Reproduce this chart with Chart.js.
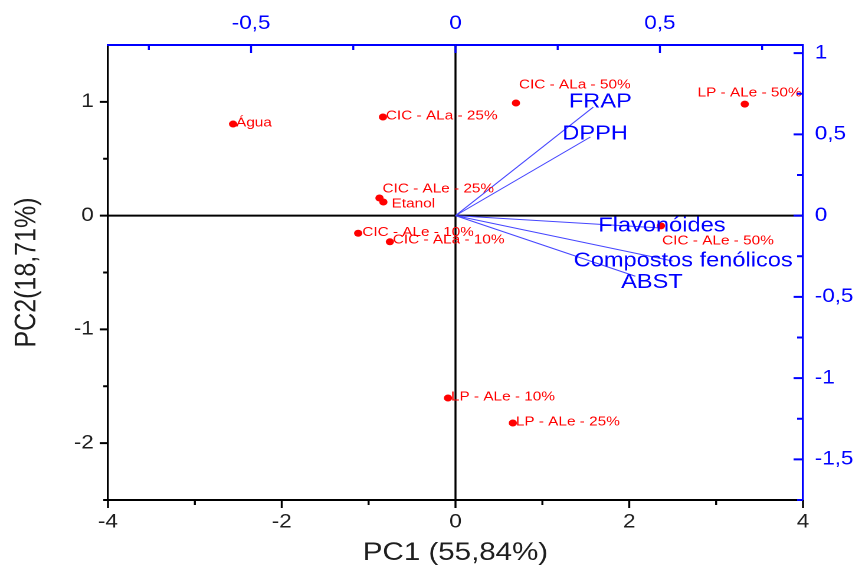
<!DOCTYPE html>
<html>
<head>
<meta charset="utf-8">
<title>PCA biplot</title>
<script src="https://cdn.jsdelivr.net/npm/chart.js"></script>
<style>
  html, body { margin: 0; padding: 0; background: #fff; overflow: hidden; }
  /* the reference is a little wider than it is tall, so stretch the canvas sideways */
  #biplot { display: block; transform: scaleX(1.18); transform-origin: 0 0; }
</style>
</head>
<body>
<canvas id="biplot" width="728" height="572"></canvas>

<script>
// sample scores (bottom / left axes)
const samples = ['Água', 'CIC - ALa - 25%', 'CIC - ALa - 50%', 'LP - ALe - 50%', 'CIC - ALe - 25%',
  'Etanol', 'CIC - ALe - 10%', 'CIC - ALa - 10%', 'CIC - ALe - 50%', 'LP - ALe - 10%', 'LP - ALe - 25%'];
const pc1 = [-2.56, -0.835, 0.696, 3.33, -0.875, -0.83, -1.12, -0.755, 2.365, -0.086, 0.66];
const pc2 = [0.805, 0.867, 0.99, 0.98, 0.155, 0.12, -0.155, -0.23, -0.09, -1.603, -1.823];

// variable loadings (top / right axes)
const variables = ['FRAP', 'DPPH', 'Flavonóides', 'Compostos fenólicos', 'ABST'];
const load1 = [0.337, 0.330, 0.502, 0.531, 0.440];
const load2 = [0.668, 0.484, -0.076, -0.279, -0.373];

// ticks
const pc1Ticks = [-4, -2, 0, 2, 4];
const pc1Minor = [-3, -1, 1, 3];
const pc2Ticks = [-2, -1, 0, 1];
const pc2Minor = [-2.5, -1.5, -0.5, 0.5];
const load1Ticks = [-0.5, 0, 0.5];
const load1Minor = [-0.75, -0.25, 0.25, 0.75];
const load2Ticks = [-1.5, -1, -0.5, 0, 0.5, 1];
const load2Minor = [-1.75, -1.25, -0.75, -0.25, 0.25, 0.75];

// label nudges in px (dx, dy) - text is drawn left aligned next to the dot
const sampleNudge = [[2.5, -1], [2.5, -1], [2.5, -18], [-40, -11], [2.5, -9], [7, 2],
  [3.4, -1], [2.5, -2], [1, 15], [2.5, -1], [2.5, -1]];
// centred on the arrow tip
const variableNudge = [[6, -5], [4, -3], [1, -2], [9, 0], [14, 6]];

const FONT = '"Liberation Sans", Arial, sans-serif';
const RED = '#ff0000';
const BLUE = '#0000ff';
const INK = '#1e1e1e';

const comma = v => String(v).replace('.', ',');

const decor = {
  id: 'decor',
  beforeDatasetsDraw(chart) {
    const { ctx, chartArea: a, scales } = chart;
    const x0 = scales.x.getPixelForValue(0);
    const y0 = scales.y.getPixelForValue(0);
    ctx.save();
    ctx.strokeStyle = '#000';
    ctx.lineWidth = 2;
    ctx.beginPath();
    ctx.moveTo(a.left, y0); ctx.lineTo(a.right, y0);
    ctx.stroke();
    ctx.lineWidth = 1.7;
    ctx.beginPath();
    ctx.moveTo(x0, a.top); ctx.lineTo(x0, a.bottom);
    ctx.stroke();
    ctx.restore();
  },
  afterDatasetsDraw(chart) {
    const { ctx, scales } = chart;
    ctx.save();
    ctx.textBaseline = 'middle';

    ctx.fillStyle = BLUE;
    ctx.font = '20px ' + FONT;
    ctx.textAlign = 'center';
    variables.forEach((name, i) => {
      const px = scales.x2.getPixelForValue(load1[i]) + variableNudge[i][0];
      const py = scales.y2.getPixelForValue(load2[i]) + variableNudge[i][1];
      ctx.fillText(name, px, py);
    });

    ctx.fillStyle = RED;
    ctx.font = '13px ' + FONT;
    ctx.textAlign = 'left';
    samples.forEach((name, i) => {
      const px = scales.x.getPixelForValue(pc1[i]) + sampleNudge[i][0];
      const py = scales.y.getPixelForValue(pc2[i]) + sampleNudge[i][1];
      ctx.fillText(name, px, py);
    });
    ctx.restore();
  },
  afterDraw(chart) {
    const { ctx, chartArea: a, scales } = chart;
    const marks = (scale, values, edge, dir, len, color, width) => {
      ctx.strokeStyle = color;
      ctx.lineWidth = width;
      values.forEach(v => {
        const p = scale.getPixelForValue(v);
        ctx.beginPath();
        if (scale.isHorizontal()) { ctx.moveTo(p, edge); ctx.lineTo(p, edge + dir * len); }
        else { ctx.moveTo(edge, p); ctx.lineTo(edge + dir * len, p); }
        ctx.stroke();
      });
    };
    ctx.save();
    marks(scales.x, pc1Ticks, a.bottom, 1, 8, '#000', 1.7);
    marks(scales.x, pc1Minor, a.bottom, 1, 5, '#000', 1.7);
    marks(scales.y, pc2Ticks, a.left, -1, 7, '#000', 2);
    marks(scales.y, pc2Minor, a.left, -1, 4, '#000', 2);
    marks(scales.x2, load1Ticks, a.top, 1, 8, BLUE, 1.7);
    marks(scales.x2, load1Minor, a.top, 1, 5, BLUE, 1.7);
    marks(scales.y2, load2Ticks, a.right, -1, 8, BLUE, 2);
    marks(scales.y2, load2Minor, a.right, -1, 5, BLUE, 2);
    ctx.restore();
  }
};

const fixedTicks = values => scale => { scale.ticks = values.map(v => ({ value: v })); };

const axis = (extra) => Object.assign({
  type: 'linear',
  grid: { display: true, drawOnChartArea: false, drawTicks: false },
  ticks: { autoSkip: false, maxRotation: 0, font: { size: 19, family: FONT }, color: INK, callback: v => comma(v) }
}, extra);

const datasets = [{
  label: 'amostras',
  data: pc1.map((v, i) => ({ x: v, y: pc2[i] })),
  xAxisID: 'x', yAxisID: 'y',
  backgroundColor: RED, borderWidth: 0,
  pointRadius: 3.5
}];
variables.forEach((name, i) => {
  datasets.push({
    label: name,
    data: [{ x: 0, y: 0 }, { x: load1[i], y: load2[i] }],
    xAxisID: 'x2', yAxisID: 'y2',
    showLine: true, pointRadius: 0,
    borderColor: '#4646ff', borderWidth: 1
  });
});

new Chart(document.getElementById('biplot'), {
  type: 'scatter',
  data: { datasets },
  plugins: [decor],
  options: {
    responsive: false,
    devicePixelRatio: 2,
    animation: false,
    layout: { padding: 0 },
    plugins: { legend: { display: false }, tooltip: { enabled: false } },
    scales: {
      x: axis({
        position: 'bottom', min: -4, max: 4,
        afterBuildTicks: fixedTicks(pc1Ticks),
        afterFit: s => { s.height = 72; },
        border: { color: '#000', width: 2 },
        ticks: Object.assign(axis({}).ticks, { padding: 11 }),
        title: { display: true, text: 'PC1 (55,84%)', color: INK, font: { size: 25, family: FONT }, padding: { top: 0, bottom: 4 } }
      }),
      y: axis({
        position: 'left', min: -2.5, max: 1.5,
        afterBuildTicks: fixedTicks(pc2Ticks),
        afterFit: s => { s.width = 91.5; },
        border: { color: '#000', width: 1.7 },
        ticks: Object.assign(axis({}).ticks, { padding: 12 }),
        title: { display: true, text: 'PC2(18,71%)', color: INK, font: { size: 25, family: FONT }, padding: { top: 8, bottom: 0 } }
      }),
      x2: axis({
        position: 'top', min: -0.85, max: 0.85,
        afterBuildTicks: fixedTicks(load1Ticks),
        afterFit: s => { s.height = 45; },
        border: { color: BLUE, width: 2 },
        ticks: Object.assign(axis({}).ticks, { color: BLUE, padding: 10 })
      }),
      y2: axis({
        position: 'right', min: -1.75, max: 1.05,
        afterBuildTicks: fixedTicks(load2Ticks),
        afterFit: s => { s.width = 47.5; },
        border: { color: BLUE, width: 1.7 },
        ticks: Object.assign(axis({}).ticks, { color: BLUE, padding: 10 })
      })
    }
  }
});
</script>
</body>
</html>
